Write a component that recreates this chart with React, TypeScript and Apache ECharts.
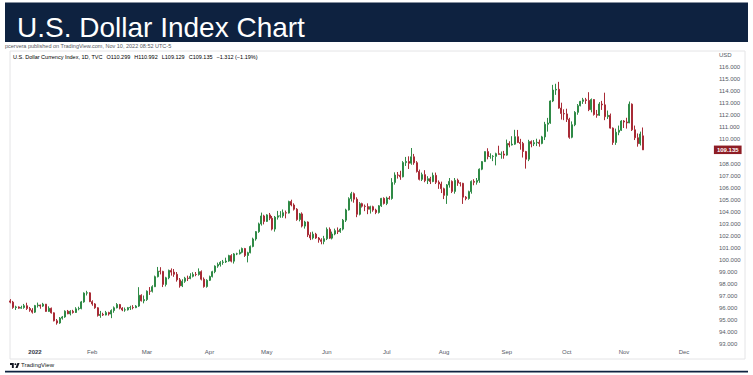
import React, { useEffect, useRef } from "react";
import * as echarts from "echarts";

// ---- Data: daily OHLC as [open, close, low, high], one row per weekday ----
const dec2021 = [
  [96.6, 96.5, 96.4, 96.75], [96.5, 96.05, 95.95, 96.6], [96.05, 96.1, 95.85, 96.2], [96.1, 96.0, 95.95, 96.15],
  [96.0, 96.05, 95.95, 96.2], [96.05, 96.2, 95.95, 96.35], [96.2, 95.97, 95.85, 96.45], [95.97, 95.83, 95.7, 96.1],
  [95.83, 95.67, 95.55, 96.0],
];
const jan = [
  [95.67, 96.21, 95.6, 96.27], [96.21, 96.26, 96.05, 96.46], [96.26, 96.17, 95.95, 96.3], [96.17, 96.33, 96.1, 96.44],
  [96.33, 95.73, 95.7, 96.35], [95.73, 95.99, 95.7, 96.15], [95.99, 95.61, 95.55, 96.05], [95.61, 94.95, 94.9, 95.65],
  [94.95, 94.77, 94.63, 95.1], [94.77, 95.17, 94.7, 95.26], [95.17, 95.27, 95.05, 95.35], [95.27, 95.75, 95.2, 95.82],
  [95.75, 95.53, 95.5, 95.85], [95.53, 95.74, 95.4, 95.83], [95.74, 95.64, 95.55, 95.86], [95.64, 95.94, 95.6, 96.08],
  [95.94, 95.97, 95.82, 96.12], [95.97, 96.52, 95.9, 96.6], [96.52, 97.25, 96.45, 97.31], [97.25, 97.27, 97.05, 97.44],
  [97.27, 96.54, 96.5, 97.32],
];
const feb = [
  [96.54, 96.35, 96.2, 96.65], [96.35, 96.03, 95.95, 96.42], [96.03, 95.39, 95.3, 96.08], [95.39, 95.48, 95.2, 95.77],
  [95.48, 95.43, 95.35, 95.62], [95.43, 95.63, 95.4, 95.77], [95.63, 95.51, 95.38, 95.7], [95.51, 95.8, 95.17, 95.9],
  [95.8, 96.03, 95.62, 96.14], [96.03, 96.3, 95.98, 96.42], [96.3, 96.0, 95.9, 96.35], [96.0, 95.85, 95.75, 96.08],
  [95.85, 95.86, 95.7, 96.05], [95.86, 96.04, 95.8, 96.1], [96.04, 96.06, 95.85, 96.2], [96.06, 96.04, 95.9, 96.25],
  [96.04, 96.17, 96.0, 96.25], [96.17, 97.07, 96.1, 97.74], [97.07, 96.61, 96.55, 97.15], [96.61, 96.71, 96.4, 97.05],
];
const mar = [
  [96.71, 97.41, 96.6, 97.47], [97.41, 97.4, 97.1, 97.75], [97.4, 97.78, 97.3, 97.9], [97.78, 98.61, 97.75, 98.7],
  [98.61, 99.07, 98.55, 99.42], [99.07, 99.05, 98.8, 99.4], [99.05, 97.97, 97.75, 99.1], [97.97, 98.52, 97.8, 98.6],
  [98.52, 99.13, 98.4, 99.2], [99.13, 98.99, 98.7, 99.3], [98.99, 98.81, 98.6, 99.25], [98.81, 98.35, 98.2, 99.0],
  [98.35, 97.85, 97.7, 98.5], [97.85, 98.23, 97.75, 98.4], [98.23, 98.49, 98.1, 98.6], [98.49, 98.46, 98.25, 98.7],
  [98.46, 98.64, 98.4, 98.9], [98.64, 98.8, 98.55, 98.98], [98.8, 98.79, 98.65, 99.0], [98.79, 99.03, 98.7, 99.3],
  [99.03, 98.4, 98.3, 99.13], [98.4, 97.79, 97.7, 98.55], [97.79, 98.31, 97.7, 98.4],
];
const apr = [
  [98.31, 98.62, 98.25, 98.7], [98.62, 99.03, 98.55, 99.1], [99.03, 99.49, 98.9, 99.55], [99.49, 99.62, 99.35, 99.78],
  [99.62, 99.8, 99.45, 99.9], [99.8, 99.83, 99.6, 100.0], [99.83, 99.91, 99.75, 100.19], [99.91, 100.36, 99.85, 100.43],
  [100.36, 99.9, 99.8, 100.48], [99.9, 100.5, 99.7, 100.57], [100.5, 100.51, 100.4, 100.6], [100.51, 100.63, 100.45, 100.86],
  [100.63, 100.95, 100.55, 101.03], [100.95, 100.37, 100.25, 101.0], [100.37, 100.6, 99.8, 100.68], [100.6, 101.12, 100.55, 101.2],
  [101.12, 101.74, 101.05, 101.85], [101.74, 102.35, 101.6, 102.4], [102.35, 102.99, 102.25, 103.1], [102.99, 103.65, 102.85, 103.93],
  [103.65, 103.2, 102.95, 103.75],
];
const may = [
  [103.2, 103.74, 103.15, 103.8], [103.74, 103.46, 103.3, 103.9], [103.46, 102.56, 102.45, 103.65], [102.56, 103.55, 102.35, 103.65],
  [103.55, 103.66, 103.35, 104.07], [103.66, 103.66, 103.5, 104.05], [103.66, 103.92, 103.5, 104.19], [103.92, 103.89, 103.45, 104.1],
  [103.89, 104.85, 103.85, 104.92], [104.85, 104.56, 104.45, 105.0], [104.56, 104.21, 104.1, 104.7], [104.21, 103.35, 103.25, 104.3],
  [103.35, 103.82, 103.2, 103.9], [103.82, 102.81, 102.7, 103.95], [102.81, 103.15, 102.6, 103.25], [103.15, 102.08, 101.9, 103.2],
  [102.08, 101.83, 101.65, 102.3], [101.83, 102.14, 101.7, 102.35], [102.14, 101.82, 101.75, 102.25], [101.82, 101.67, 101.43, 101.9],
  [101.67, 101.54, 101.3, 101.8], [101.54, 101.76, 101.3, 102.0],
];
const jun = [
  [101.76, 102.54, 101.65, 102.7], [102.54, 101.81, 101.75, 102.7], [101.81, 102.15, 101.7, 102.35], [102.15, 102.43, 102.05, 102.6],
  [102.43, 102.35, 102.15, 102.7], [102.35, 102.56, 102.25, 102.65], [102.56, 103.3, 102.45, 103.4], [103.3, 104.15, 103.15, 104.25],
  [104.15, 105.08, 104.1, 105.2], [105.08, 105.5, 104.85, 105.65], [105.5, 105.04, 104.75, 105.6], [105.04, 103.79, 103.55, 105.2],
  [103.79, 104.67, 103.7, 104.8], [104.67, 104.46, 104.35, 104.75], [104.46, 104.43, 104.05, 104.6], [104.43, 104.21, 103.8, 104.7],
  [104.21, 104.42, 103.85, 104.5], [104.42, 104.14, 104.0, 104.5], [104.14, 103.94, 103.8, 104.25], [103.94, 104.49, 103.85, 104.55],
  [104.49, 105.11, 104.4, 105.15], [105.11, 104.69, 104.6, 105.2],
];
const jul = [
  [104.69, 105.14, 104.55, 105.25], [105.14, 105.1, 105.0, 105.3], [105.1, 106.43, 105.0, 106.79], [106.43, 107.05, 106.25, 107.27],
  [107.05, 107.03, 106.75, 107.3], [107.03, 106.9, 106.65, 107.4], [106.9, 108.08, 106.85, 108.2], [108.08, 108.17, 107.8, 108.55],
  [108.17, 108.03, 107.55, 108.6], [108.03, 108.56, 107.9, 109.29], [108.56, 108.07, 107.9, 108.8], [108.07, 107.34, 107.25, 108.2],
  [107.34, 106.69, 106.6, 107.5], [106.69, 107.08, 106.55, 107.25], [107.08, 106.58, 106.45, 107.45], [106.58, 106.74, 106.3, 106.95],
  [106.74, 106.51, 106.3, 106.9], [106.51, 107.02, 106.45, 107.25], [107.02, 106.45, 106.3, 107.25], [106.45, 106.3, 105.9, 106.6],
  [106.3, 105.91, 105.55, 106.5],
];
const aug = [
  [105.91, 105.36, 105.05, 106.0], [105.36, 106.23, 104.65, 106.3], [106.23, 106.52, 106.0, 106.8], [106.52, 105.69, 105.55, 106.6],
  [105.69, 106.61, 105.5, 106.8], [106.61, 106.39, 106.15, 106.75], [106.39, 106.36, 106.1, 106.45], [106.36, 105.21, 104.65, 106.4],
  [105.21, 105.1, 104.95, 105.3], [105.1, 105.67, 105.0, 105.75], [105.67, 106.52, 105.5, 106.6], [106.52, 106.45, 106.2, 106.7],
  [106.45, 106.6, 106.25, 106.8], [106.6, 107.53, 106.4, 107.6], [107.53, 108.16, 107.45, 108.2], [108.16, 108.99, 108.15, 109.0],
  [108.99, 108.58, 108.35, 109.27], [108.58, 108.59, 108.4, 108.85], [108.59, 108.6, 108.2, 108.7], [108.6, 108.82, 107.85, 108.9],
  [108.82, 108.76, 108.75, 109.48], [108.76, 108.79, 108.4, 109.0], [108.79, 108.7, 108.4, 109.05],
];
const sep = [
  [108.7, 109.67, 108.65, 109.99], [109.67, 109.54, 109.35, 109.85], [109.54, 109.61, 109.5, 110.27], [109.61, 110.23, 109.55, 110.8],
  [110.23, 109.75, 109.7, 110.79], [109.75, 109.67, 109.15, 110.05], [109.67, 109.0, 108.5, 109.8], [109.0, 108.36, 107.58, 109.05],
  [108.36, 109.82, 108.2, 109.97], [109.82, 109.64, 109.35, 109.92], [109.64, 109.73, 109.45, 109.95], [109.73, 109.76, 109.45, 110.06],
  [109.76, 109.67, 109.4, 109.99], [109.67, 110.21, 109.6, 110.3], [110.21, 111.26, 109.95, 111.46], [111.26, 111.36, 110.65, 111.79],
  [111.36, 113.19, 111.3, 113.24], [113.19, 114.1, 113.1, 114.53], [114.1, 114.16, 113.7, 114.62], [114.16, 112.6, 112.55, 114.78],
  [112.6, 112.15, 111.65, 113.05], [112.15, 112.12, 111.6, 112.5],
];
const oct = [
  [112.12, 111.67, 111.45, 112.55], [111.67, 110.18, 110.06, 111.8], [110.18, 111.22, 110.1, 111.5], [111.22, 112.25, 111.1, 112.35],
  [112.25, 112.8, 112.05, 112.94], [112.8, 113.16, 112.75, 113.2], [113.16, 113.29, 112.95, 113.45], [113.29, 113.23, 112.95, 113.45],
  [113.23, 112.47, 112.35, 113.92], [112.47, 113.31, 112.25, 113.4], [113.31, 112.07, 111.98, 113.35], [112.07, 112.01, 111.8, 112.45],
  [112.01, 112.94, 111.95, 113.1], [112.94, 112.87, 112.45, 113.2], [112.87, 111.89, 111.6, 113.88], [111.89, 112.0, 111.7, 112.4],
  [112.0, 110.94, 110.9, 112.15], [110.94, 109.75, 109.55, 111.0], [109.75, 110.6, 109.55, 110.9], [110.6, 110.76, 110.35, 111.15],
  [110.76, 111.53, 110.7, 111.6],
];
const nov = [
  [111.53, 111.45, 110.95, 111.6], [111.45, 111.37, 110.9, 111.8], [111.37, 112.93, 111.35, 113.15], [112.93, 110.8, 110.7, 112.99],
  [110.8, 110.14, 109.95, 111.15], [110.14, 109.65, 109.4, 110.5], [109.65, 110.45, 109.5, 110.65], [110.299, 109.135, 109.129, 110.992],
];

// Axis settings
const FIRST_DAY = Date.UTC(2021, 11, 21);
const LAST_DAY = Date.UTC(2022, 11, 14);
const MONTH_LABELS = ["2022", "Feb", "Mar", "Apr", "May", "Jun", "Jul", "Aug", "Sep", "Oct", "Nov", "Dec"];
const PRICE_MIN = 92;
const PRICE_MAX = 117;
const HIDDEN_TICK = 109; // covered by the last-price tag
const LAST_PRICE = 109.135;

const TITLE = "U.S. Dollar Index Chart";
const PUBLISHED = "pcervera published on TradingView.com, Nov 10, 2022 08:52 UTC-5";
const SYMBOL = "U.S. Dollar Currency Index, 1D, TVC";
const OHLC = [
  ["O", "110.299"],
  ["H", "110.992"],
  ["L", "109.129"],
  ["C", "109.135"],
];
const CHANGE = "\u22121.312 (\u22121.19%)";

const UP = "#2f8a46";
const DOWN = "#a82b36";
const NAVY = "#0e2240";
const FONT = "'Liberation Sans', Arial, sans-serif";

function weekdays(start: number, end: number): string[] {
  const out: string[] = [];
  for (let t = start; t <= end; t += 86400000) {
    const d = new Date(t);
    const wd = d.getUTCDay();
    if (wd !== 0 && wd !== 6) out.push(d.toISOString().slice(0, 10));
  }
  return out;
}

const LOGO_D =
  "M14 22H7V11H0V4h14v18zM28 22h-8l7.5-18h8L28 22zM20 11.5a3.5 3.5 0 1 0 0-7 3.5 3.5 0 1 0 0 7z";

export default function App() {
  const ref = useRef<HTMLDivElement>(null);

  useEffect(() => {
    if (!ref.current) return;
    try {
      echarts.graphic.registerShape("tvlogo", echarts.graphic.extendPath(LOGO_D as any, {}) as any);
    } catch (e) {}
    const chart = echarts.init(ref.current, undefined, { renderer: "svg" });
    const dates = weekdays(FIRST_DAY, LAST_DAY);
    const ohlc = [...dec2021, ...jan, ...feb, ...mar, ...apr, ...may, ...jun, ...jul, ...aug, ...sep, ...oct, ...nov];

    let legendText = `{n|${SYMBOL}}`;
    OHLC.forEach(([k, v]) => {
      legendText += `{k|${k}}{v|${v}}`;
    });
    legendText += `{c|${CHANGE}}`;

    chart.setOption({
      animation: false,
      backgroundColor: "#ffffff",
      textStyle: { fontFamily: FONT },
      grid: { left: 9.1, right: 43.1, top: 55.1, bottom: 18.65, outerBoundsMode: "none" } as any,
      xAxis: {
        type: "category",
        data: dates,
        boundaryGap: true,
        axisLine: { show: false },
        axisTick: { show: false },
        splitLine: { show: false },
        axisLabel: {
          inside: true,
          margin: 1,
          fontSize: 6,
          color: "#555a66",
          interval: (i: number, v: string) => i > 0 && dates[i - 1].slice(5, 7) !== v.slice(5, 7),
          formatter: (v: string) => {
            const m = parseInt(v.slice(5, 7), 10);
            return m === 1 ? `{b|${MONTH_LABELS[0]}}` : MONTH_LABELS[m - 1];
          },
          rich: { b: { fontWeight: "bold", fontSize: 6, color: "#333844", fontFamily: FONT } },
        },
      },
      yAxis: {
        type: "value",
        position: "right",
        min: PRICE_MIN,
        max: PRICE_MAX,
        interval: 1,
        axisLine: { show: false },
        axisTick: { show: false },
        splitLine: { show: false },
        axisLabel: {
          margin: 9,
          fontSize: 6,
          color: "#555a66",
          formatter: (v: number) =>
            v === PRICE_MAX ? "USD" : v === PRICE_MIN || v === HIDDEN_TICK ? "" : v.toFixed(3),
        },
      },
      series: [
        {
          type: "candlestick",
          data: ohlc,
          barWidth: 1.5,
          itemStyle: { color: UP, color0: DOWN, borderColor: UP, borderColor0: DOWN, borderWidth: 1 },
          markLine: {
            silent: true,
            symbol: ["none", "none"],
            lineStyle: { width: 0, color: "rgba(0,0,0,0)" },
            label: {
              show: true,
              position: "end",
              distance: 4,
              formatter: LAST_PRICE.toFixed(3),
              backgroundColor: "#8e1d25",
              color: "#ffffff",
              fontSize: 6,
              fontWeight: "bold",
              padding: [1.5, 3, 1, 3],
            },
            data: [{ yAxis: LAST_PRICE }],
          },
        },
      ],
      graphic: [
        { type: "rect", shape: { x: 5, y: 2.5, width: 743, height: 39.5 }, style: { fill: NAVY }, z: 10 },
        {
          type: "text",
          x: 17,
          y: 27,
          z: 11,
          style: { text: TITLE, fill: "#ffffff", font: `28px ${FONT}`, textVerticalAlign: "middle" } as any,
        },
        {
          type: "text",
          x: 5,
          y: 46,
          z: 11,
          style: { text: PUBLISHED, fill: "#55575e", font: `5.5px ${FONT}`, textVerticalAlign: "middle" } as any,
        },
        {
          type: "rect",
          shape: { x: 10, y: 51, width: 735, height: 308 },
          style: { fill: "none", stroke: "#e4e4e6", lineWidth: 1 },
          z: -1,
        },
        {
          type: "text",
          x: 13,
          y: 57,
          z: 11,
          style: {
            text: legendText,
            textVerticalAlign: "middle",
            rich: {
              n: { fontSize: 5.5, color: "#3d404a", fontFamily: FONT },
              k: { fontSize: 5.5, color: "#3d404a", fontFamily: FONT, padding: [0, 0, 0, 4] },
              v: { fontSize: 5.5, color: "#b02a30", fontFamily: FONT },
              c: { fontSize: 5.5, color: "#b02a30", fontFamily: FONT, padding: [0, 0, 0, 4] },
            },
          } as any,
        },
        {
          type: "tvlogo",
          x: 10,
          y: 362,
          scaleX: 0.27,
          scaleY: 0.27,
          style: { fill: "#131722" },
          z: 11,
        } as any,
        {
          type: "text",
          x: 21,
          y: 365,
          z: 11,
          style: { text: "TradingView", fill: "#131722", font: `6px ${FONT}`, textVerticalAlign: "middle" } as any,
        },
        { type: "rect", shape: { x: 5, y: 370.8, width: 743, height: 1.6 }, style: { fill: NAVY }, z: 10 },
      ],
    });

    return () => chart.dispose();
  }, []);

  return (
    <div
      ref={ref}
      style={{ position: "absolute", left: 0, top: 0, width: 753, height: 375, background: "#fff" }}
    />
  );
}
